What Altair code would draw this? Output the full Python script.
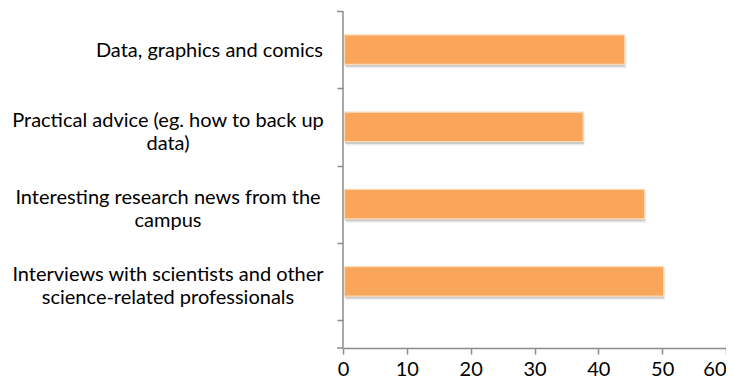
import altair as alt
import pandas as pd

categories = [
    "Data, graphics and comics",
    "Practical advice (eg. how to back up data)",
    "Interesting research news from the campus",
    "Interviews with scientists and other science-related professionals",
]
label_text = [
    "Data, graphics and comics",
    "Practical advice (eg. how to back up|data)",
    "Interesting research news from the|campus",
    "Interviews with scientists and other|science-related professionals",
]
values = [43.9, 37.4, 47.0, 50.0]
x_ticks = [0, 10, 20, 30, 40, 50, 60]

df = pd.DataFrame({"cat": categories, "val": values, "lab": label_text})
df["two"] = df["lab"].str.contains("|", regex=False)

W, H = 383, 337
BAND_H = 309
STEP = BAND_H / len(categories)
FONT = "Lato"
FS = 20
AXIS_GRAY = "#8c8c8c"

yscale = alt.Scale(domain=categories, range=[0, BAND_H], paddingInner=0.62, paddingOuter=0.31)
xscale = alt.Scale(domain=[0, 60], nice=False)

yenc = alt.Y("cat:N", scale=yscale, sort=categories,
             axis=alt.Axis(title=None, domain=False, tickSize=6, tickOffset=STEP / 2,
                           tickColor=AXIS_GRAY, tickWidth=1.5, labels=False))
xenc = alt.X("val:Q", scale=xscale,
             axis=alt.Axis(title=None, values=x_ticks, grid=False, domainColor=AXIS_GRAY,
                           domainWidth=1.5, tickColor=AXIS_GRAY, tickWidth=1.5, tickSize=6,
                           labelFont=FONT, labelFontSize=FS, labelColor="#000000",
                           labelPadding=5, labelFlush=False,
                           labelAlign={"condition": {"test": "datum.value >= 60", "value": "right"},
                                       "value": "center"}))

base = alt.Chart(df)
ycat = alt.Y("cat:N", scale=yscale, sort=categories)
xval = alt.X("val:Q", scale=xscale)

shadow2 = base.mark_bar(color="#9a9a9a", opacity=0.18, yOffset=4, xOffset=3).encode(
    y=yenc, x=xenc,
)
shadow = base.mark_bar(color="#8a8a8a", opacity=0.35, yOffset=2.5, xOffset=2).encode(
    y=ycat, x=xval,
)
bars = base.mark_bar(color="#F9A65A", stroke="#FCD9B5", strokeWidth=1.2, xOffset=1.5).encode(
    y=ycat, x=xval,
)

lab1 = base.transform_filter("!datum.two").mark_text(
    align="right", baseline="middle", font=FONT, fontSize=FS, color="#000000", dy=1.5
).encode(y=ycat, x=alt.value(-20), text="lab:N")
lab2 = base.transform_filter("datum.two").mark_text(
    align="center", baseline="middle", font=FONT, fontSize=FS, color="#000000", dy=-6,
    lineBreak="|", lineHeight=23
).encode(y=ycat, x=alt.value(-175), text="lab:N")

yline = alt.Chart(pd.DataFrame({"a": [0]})).mark_rule(color=AXIS_GRAY, strokeWidth=1.5).encode(
    x=alt.value(0), y=alt.value(0), y2=alt.value(H)
)
ttick = alt.Chart(pd.DataFrame({"a": [0]})).mark_rule(color=AXIS_GRAY, strokeWidth=1.5).encode(
    x=alt.value(-6), x2=alt.value(0), y=alt.value(0.5)
)
btick = alt.Chart(pd.DataFrame({"a": [0]})).mark_rule(color=AXIS_GRAY, strokeWidth=1.5).encode(
    x=alt.value(-6), x2=alt.value(0), y=alt.value(H)
)

chart = alt.layer(shadow2, shadow, bars, lab1, lab2, yline, ttick, btick).properties(
    width=W, height=H,
    background="#ffffff",
    autosize=alt.AutoSizeParams(type="none"),
    padding={"left": 335, "top": 3, "right": 0, "bottom": 30},
).configure_view(stroke=None)

chart.save("out.html", embed_options={"renderer": "svg", "actions": False})
